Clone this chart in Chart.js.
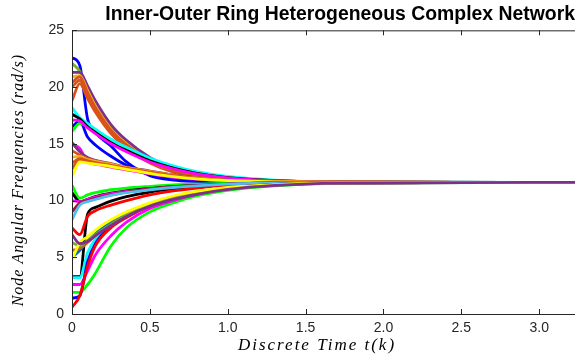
<!DOCTYPE html>
<html>
<head>
<meta charset="utf-8">
<script src="https://cdn.jsdelivr.net/npm/chart.js@4"></script>
<style>
  html, body { margin: 0; padding: 0; background: #fff; }
  #wrap { width: 575px; height: 356px; }
</style>
</head>
<body>
<div id="wrap"><canvas id="freqChart" width="575" height="356"></canvas></div>
<script>
// sample times (s) shared by every node trace
const times = [0, 0.05, 0.1, 0.15, 0.25, 0.35, 0.5, 0.65, 0.8, 1.0, 1.3, 1.7, 3.3];

// nodes starting above the consensus value
const upperNodes = [
    [12.1, 13.4, 13.3, 13.2, 13.0, 12.75, 12.4, 12.1, 11.9, 11.75, 11.65, 11.6, 11.6],
    [12.8, 13.6, 13.45, 13.3, 13.05, 12.8, 12.45, 12.15, 11.92, 11.76, 11.65, 11.61, 11.6],
    [13.3, 13.7, 13.5, 13.35, 13.1, 12.85, 12.5, 12.2, 11.95, 11.78, 11.66, 11.61, 11.6],
    [13.8, 13.9, 13.6, 13.45, 13.2, 12.9, 12.55, 12.22, 11.97, 11.78, 11.66, 11.61, 11.6],
    [14.4, 14.0, 13.7, 13.5, 13.2, 12.9, 12.55, 12.22, 11.97, 11.78, 11.66, 11.61, 11.6],
    [15.1, 14.3, 13.8, 13.55, 13.25, 12.95, 12.6, 12.25, 12.0, 11.8, 11.67, 11.61, 11.6],
    [15.0, 14.6, 13.4, 13.2, 12.95, 12.7, 12.35, 12.05, 11.88, 11.74, 11.65, 11.6, 11.6],
    [17.1, 17.0, 16.4, 15.9, 15.0, 14.3, 13.4, 12.8, 12.35, 12.0, 11.75, 11.63, 11.6],
    [17.6, 17.2, 16.5, 16.0, 15.1, 14.4, 13.5, 12.85, 12.4, 12.02, 11.76, 11.63, 11.6],
    [16.1, 16.8, 16.5, 16.0, 15.1, 14.4, 13.5, 12.85, 12.4, 12.02, 11.76, 11.63, 11.6],
    [18.2, 17.3, 16.8, 16.3, 15.4, 14.7, 13.75, 13.05, 12.55, 12.12, 11.8, 11.65, 11.6],
    [16.5, 17.0, 15.6, 14.9, 13.9, 13.1, 12.3, 11.9, 11.72, 11.63, 11.6, 11.6, 11.6],
    [18.8, 20.3, 19.0, 17.8, 15.9, 14.6, 13.3, 12.5, 12.1, 11.8, 11.66, 11.61, 11.6],
    [20.0, 20.6, 19.3, 18.0, 16.1, 14.8, 13.45, 12.6, 12.15, 11.83, 11.67, 11.61, 11.6],
    [20.4, 20.9, 19.5, 18.2, 16.2, 14.9, 13.5, 12.65, 12.18, 11.84, 11.67, 11.61, 11.6],
    [20.9, 21.0, 19.7, 18.35, 16.3, 15.0, 13.55, 12.7, 12.2, 11.85, 11.68, 11.61, 11.6],
    [21.3, 21.3, 20.1, 18.8, 16.7, 15.3, 13.8, 12.85, 12.3, 11.9, 11.7, 11.62, 11.6],
    [22.1, 21.4, 20.0, 18.6, 16.5, 15.1, 13.65, 12.75, 12.25, 11.87, 11.69, 11.61, 11.6],
    [22.6, 21.9, 17.2, 16.0, 14.8, 13.4, 12.2, 11.8, 11.68, 11.62, 11.6, 11.6, 11.6]
];
const upperColors = ['#FFFF00', '#D95319', '#D95319', '#EDB120', '#D95319', '#7E2F8E', '#FF00FF',
    '#FF00FF', '#000000', '#00FF00', '#00FFFF', '#0000FF',
    '#D95319', '#D95319', '#D95319', '#EDB120', '#7E2F8E', '#77AC30', '#0000FF'];

// nodes starting below the consensus value
const lowerNodes = [
    [7.0, 6.2, 6.4, 6.9, 7.8, 8.6, 9.5, 10.1, 10.55, 10.98, 11.33, 11.54, 11.6],
    [4.75, 6.3, 6.8, 7.4, 8.3, 9.0, 9.8, 10.4, 10.8, 11.15, 11.4, 11.55, 11.6],
    [6.3, 6.0, 6.5, 7.0, 7.9, 8.7, 9.55, 10.15, 10.6, 11.0, 11.35, 11.55, 11.6],
    [5.6, 5.8, 6.3, 6.9, 7.9, 8.7, 9.55, 10.15, 10.6, 11.0, 11.35, 11.55, 11.6],
    [5.0, 5.6, 6.4, 7.1, 8.1, 8.9, 9.7, 10.25, 10.7, 11.05, 11.38, 11.56, 11.6],
    [0.6, 1.6, 4.2, 6.0, 7.6, 8.5, 9.55, 10.25, 10.72, 11.1, 11.41, 11.56, 11.6],
    [1.4, 1.6, 4.6, 6.2, 7.7, 8.6, 9.6, 10.3, 10.75, 11.12, 11.42, 11.56, 11.6],
    [2.6, 2.6, 3.8, 5.2, 6.9, 8.1, 9.3, 10.0, 10.55, 11.0, 11.35, 11.54, 11.6],
    [3.2, 3.2, 5.4, 6.6, 7.9, 8.7, 9.6, 10.25, 10.7, 11.1, 11.4, 11.56, 11.6],
    [1.9, 1.9, 2.6, 3.6, 6.0, 7.6, 9.0, 9.8, 10.4, 10.9, 11.3, 11.52, 11.6],
    [8.3, 9.6, 9.9, 10.1, 10.45, 10.7, 10.95, 11.15, 11.3, 11.44, 11.55, 11.59, 11.6],
    [9.0, 9.8, 10.0, 10.2, 10.5, 10.75, 11.0, 11.2, 11.3, 11.45, 11.55, 11.59, 11.6],
    [10.0, 9.9, 10.1, 10.3, 10.6, 10.8, 11.0, 11.2, 11.3, 11.45, 11.55, 11.59, 11.6],
    [7.6, 7.0, 8.6, 9.1, 9.6, 10.0, 10.5, 10.85, 11.1, 11.33, 11.5, 11.58, 11.6],
    [3.3, 3.3, 8.8, 9.4, 9.95, 10.35, 10.75, 11.02, 11.2, 11.38, 11.52, 11.58, 11.6],
    [10.7, 9.9, 10.1, 10.35, 10.65, 10.85, 11.05, 11.22, 11.33, 11.45, 11.55, 11.59, 11.6],
    [11.35, 10.2, 10.5, 10.7, 10.95, 11.1, 11.25, 11.38, 11.45, 11.52, 11.57, 11.6, 11.6]
];
const lowerColors = ['#7E2F8E', '#FFFF00', '#77AC30', '#D95319', '#0072BD', '#FF0000', '#0000FF',
    '#FF00FF', '#00FFFF', '#00FF00', '#4DBEEE', '#A2142F', '#FF00FF', '#FF0000', '#000000',
    '#000000', '#00FF00'];

const yTicks = [0, 5, 10, 15, 20, 25];

const axisColor = '#262626';

function makeSet(values, color) {
    return {
        data: values.map((v, i) => ({ x: times[i], y: v })),
        borderColor: color,
        borderWidth: 2.8,
        pointRadius: 0,
        fill: false,
        cubicInterpolationMode: 'monotone'
    };
}

const datasets = [];
lowerNodes.forEach((vals, i) => datasets.push(makeSet(vals, lowerColors[i])));
upperNodes.forEach((vals, i) => datasets.push(makeSet(vals, upperColors[i])));

// MATLAB style box with inward ticks
const axesBox = {
    id: 'axesBox',
    afterDatasetsDraw(chart) {
        const { ctx, chartArea: a, scales: { x, y } } = chart;
        ctx.save();
        ctx.strokeStyle = axisColor;
        ctx.lineWidth = 1;
        ctx.beginPath();
        ctx.moveTo(a.right + 2, a.top + 0.5);
        ctx.lineTo(a.left + 0.5, a.top + 0.5);
        ctx.lineTo(a.left + 0.5, a.bottom + 0.5);
        ctx.lineTo(a.right + 2, a.bottom + 0.5);
        x.ticks.forEach(t => {
            const px = Math.round(x.getPixelForValue(t.value)) + 0.5;
            ctx.moveTo(px, a.bottom);
            ctx.lineTo(px, a.bottom - 5);
            ctx.moveTo(px, a.top);
            ctx.lineTo(px, a.top + 5);
        });
        y.ticks.forEach(t => {
            const py = Math.round(y.getPixelForValue(t.value)) + 0.5;
            ctx.moveTo(a.left, py);
            ctx.lineTo(a.left + 5, py);
        });
        ctx.stroke();
        ctx.restore();
    }
};

// latex-like axis labels (spaced italic serif)
const axisLabels = {
    id: 'axisLabels',
    afterDraw(chart) {
        const { ctx, chartArea: a } = chart;
        ctx.save();
        ctx.fillStyle = '#000';
        ctx.textAlign = 'center';
        ctx.textBaseline = 'middle';
        ctx.font = 'italic 17px "Liberation Serif"';
        ctx.letterSpacing = '2px';
        ctx.fillText('Discrete Time t(k)', 317, 346);
        ctx.font = 'italic 16px "Liberation Serif"';
        ctx.translate(19, (a.top + a.bottom) / 2 + 8);
        ctx.rotate(-Math.PI / 2);
        ctx.letterSpacing = '1px';
        ctx.fillText('Node Angular Frequencies (rad/s)', 0, 0);
        ctx.restore();
    }
};

new Chart(document.getElementById('freqChart').getContext('2d'), {
    type: 'line',
    data: { datasets: datasets },
    options: {
        responsive: false,
        animation: false,
        events: [],
        layout: { padding: { left: 0, right: 0, top: 0, bottom: 0 } },
        plugins: {
            legend: { display: false },
            tooltip: { enabled: false },
            title: {
                display: true,
                text: 'Inner-Outer Ring Heterogeneous Complex Network',
                color: '#000',
                align: 'end',
                font: { family: 'Liberation Sans', size: 19.4, weight: 'bold', lineHeight: 1.1 },
                padding: { top: 4, bottom: 5 }
            }
        },
        scales: {
            x: {
                type: 'linear',
                min: 0,
                max: 3.23,
                grid: { display: false, drawTicks: false },
                border: { display: false },
                ticks: {
                    stepSize: 0.5,
                    includeBounds: false,
                    padding: 6,
                    color: axisColor,
                    maxRotation: 0,
                    font: { family: 'Liberation Sans', size: 14 }
                },
                afterFit(scale) { scale.height = 42; scale.paddingLeft = 0; scale.paddingRight = 0; }
            },
            y: {
                min: 0,
                max: 25,
                grid: { display: false, drawTicks: false },
                border: { display: false },
                afterBuildTicks(scale) { scale.ticks = yTicks.map(v => ({ value: v })); },
                ticks: {
                    padding: 8,
                    color: axisColor,
                    font: { family: 'Liberation Sans', size: 14 }
                },
                afterFit(scale) { scale.width = 72; scale.paddingTop = 0; scale.paddingBottom = 0; }
            }
        }
    },
    plugins: [axesBox, axisLabels]
});
</script>
</body>
</html>
